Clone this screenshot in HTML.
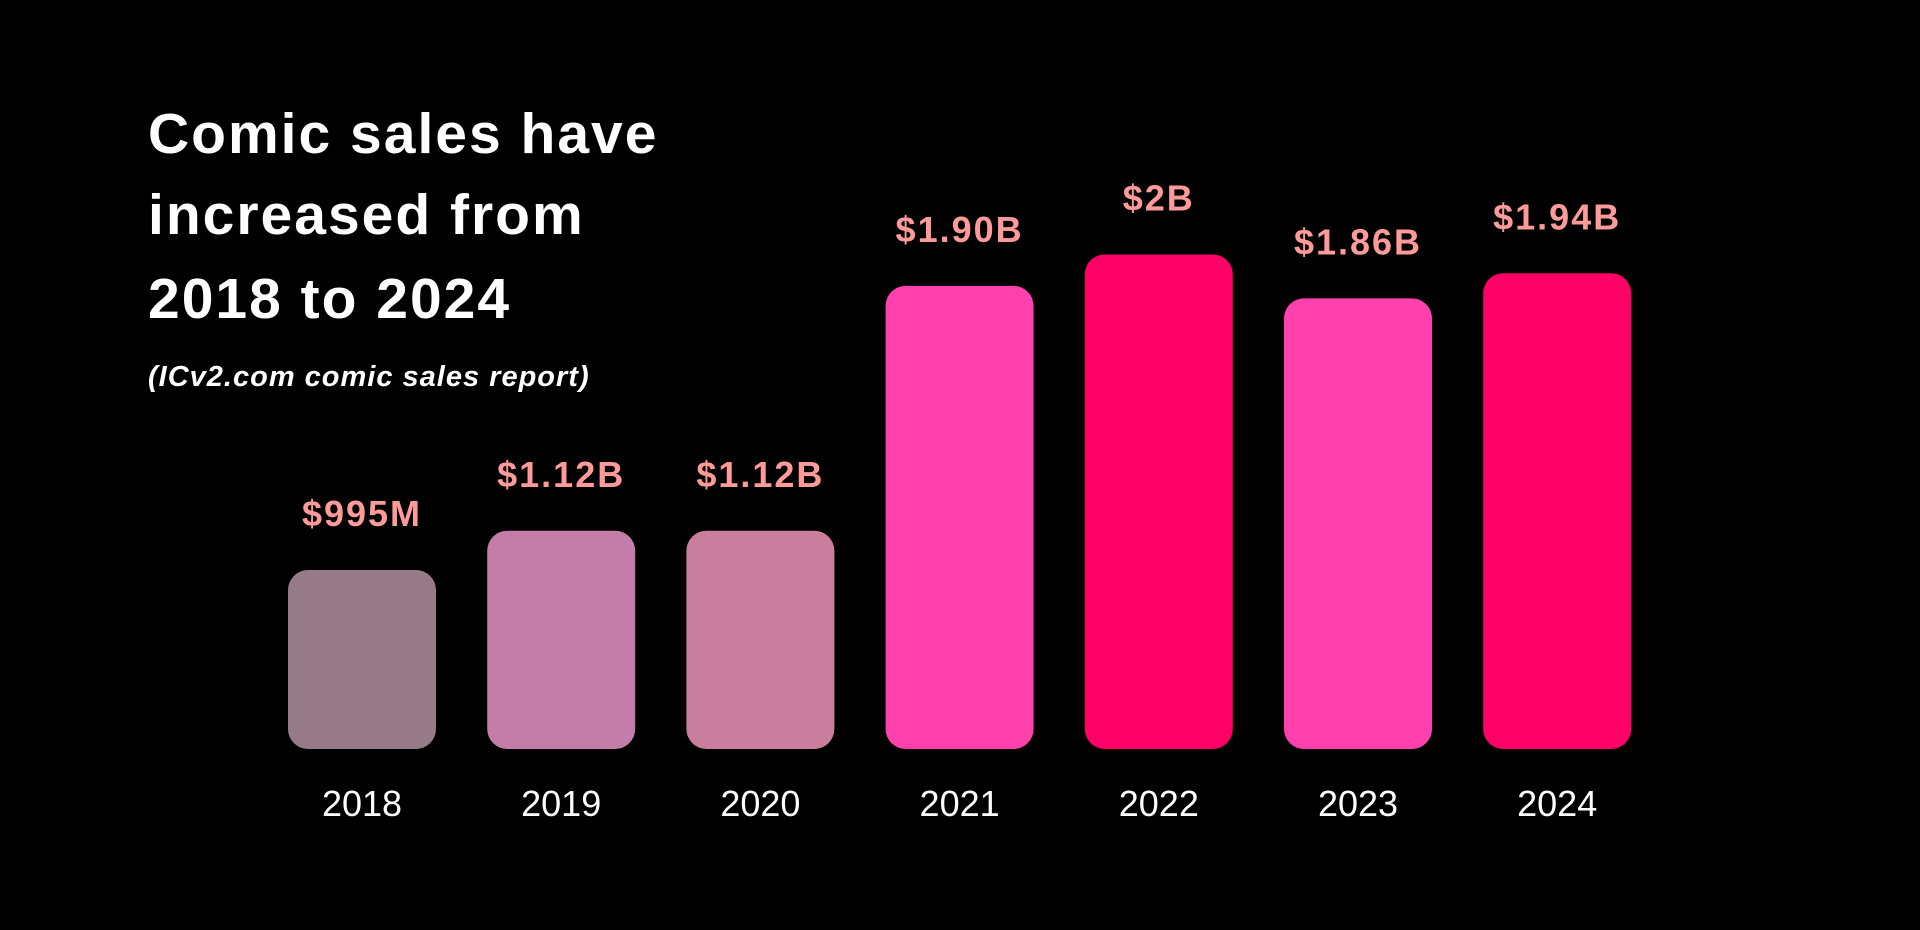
<!DOCTYPE html>
<html><head><meta charset="utf-8"><style>
html,body{margin:0;padding:0;background:#000;width:1920px;height:930px;overflow:hidden}
svg{display:block}
</style></head><body>
<svg id="chart" width="1920" height="930" viewBox="0 0 1920 930" xmlns="http://www.w3.org/2000/svg">
<rect width="1920" height="930" fill="#000"/>
<g font-family="'Liberation Sans', sans-serif" font-weight="bold" fill="#fff" font-size="57" letter-spacing="2">
<text x="148" y="153">Comic sales have</text>
<text x="148" y="234">increased from</text>
<text x="148" y="318">2018 to 2024</text>
</g>
<text x="148" y="386" font-family="'Liberation Sans', sans-serif" font-weight="bold" font-style="italic" font-size="29" letter-spacing="1" fill="#fff">(ICv2.com comic sales report)</text>
<g id="bars"></g>
</svg>
<script>
const years = ['2018','2019','2020','2021','2022','2023','2024'];
const sales = [0.995, 1.12, 1.12, 1.90, 2.00, 1.86, 1.94];
const valueLabels = ['$995M','$1.12B','$1.12B','$1.90B','$2B','$1.86B','$1.94B'];
const barColors = ['#967a88','#c47ca8','#c87e9c','#ff40ad','#ff0066','#ff40ad','#ff0066'];

const NS = 'http://www.w3.org/2000/svg';
const baseY = 749, left0 = 288, pitch = 199.2, barW = 148;
function xPos(i){ return left0 + i*pitch; }
function hScale(v){ return 314*(v-0.425); }
const g = document.getElementById('bars');
years.forEach((yr,i)=>{
  const h = hScale(sales[i]);
  const x = xPos(i);
  const r = document.createElementNS(NS,'rect');
  r.setAttribute('x',x); r.setAttribute('y',baseY-h);
  r.setAttribute('width',barW); r.setAttribute('height',h);
  r.setAttribute('rx',20); r.setAttribute('fill',barColors[i]);
  
  
  g.appendChild(r);
  const t = document.createElementNS(NS,'text');
  t.setAttribute('x',x+barW/2); t.setAttribute('y',baseY-h-44);
  t.setAttribute('text-anchor','middle');
  t.setAttribute('font-family',"'Liberation Sans', sans-serif");
  t.setAttribute('font-weight','bold'); t.setAttribute('font-size','36');
  t.setAttribute('letter-spacing','2');
  t.setAttribute('fill','#ff9a9a');
  t.textContent = valueLabels[i];
  
  
  g.appendChild(t);
  const y = document.createElementNS(NS,'text');
  y.setAttribute('x',x+barW/2); y.setAttribute('y',816);
  y.setAttribute('text-anchor','middle');
  y.setAttribute('font-family',"'Liberation Sans', sans-serif");
  y.setAttribute('font-size','36'); y.setAttribute('fill','#fff');
  y.textContent = yr;
  
  
  g.appendChild(y);
});
</script>
</body></html>
